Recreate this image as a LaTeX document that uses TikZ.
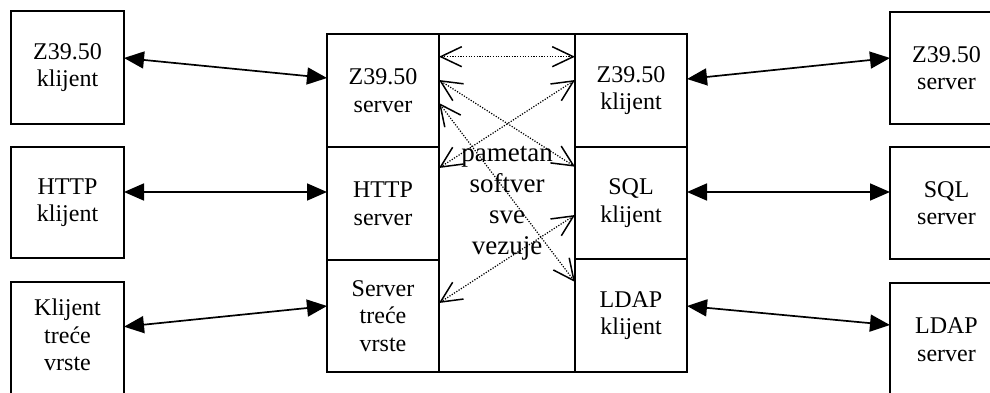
\documentclass[tikz,border=0pt]{standalone}
\usepackage{fontspec}
\setmainfont{Liberation Serif}
\usetikzlibrary{arrows.meta}
\begin{document}
\begin{tikzpicture}[x=1pt,y=-1pt,
  box/.style={draw, line width=1.5pt, inner sep=0pt, outer sep=0pt, align=center,
    font=\fontsize{24}{27.6}\selectfont},
  txt/.style={inner sep=0pt, align=center, font=\fontsize{24}{27.6}\selectfont},
  link/.style={line width=1.7pt,
    {Triangle[length=20pt,width=17pt]}-{Triangle[length=20pt,width=17pt]}},
  dotlink/.style={line width=1.2pt, dash pattern=on 1.2pt off 1.5pt,
    {Straight Barb[length=21pt,width=20pt,line width=1.5pt]}-{Straight Barb[length=21pt,width=20pt,line width=1.5pt]}},
]
\useasboundingbox (0,0) rectangle (990,393);
\begin{scope}
\clip (0,0) rectangle (990,393);
% left clients
\node[box, minimum width=113pt, minimum height=113pt] (l1) at (67.5,67.5) {Z39.50\\klijent};
\node[box, minimum width=113pt, minimum height=111pt] (l2) at (67.5,202.5) {HTTP\\klijent};
\node[box, minimum width=113pt, minimum height=113pt] (l3) at (67.5,338.5) {};
\node[txt] (l3t) at (67.5,335) {Klijent\\treće\\vrste};
% center column A
\node[box, minimum width=112pt, minimum height=113pt] (a1) at (383,90.5) {Z39.50\\server};
\node[box, minimum width=112pt, minimum height=113pt] (a2) at (383,203.5) {HTTP\\server};
\node[box, minimum width=112pt, minimum height=112pt] (a3) at (383,316) {Server\\treće\\vrste};
% middle
\node[box, minimum width=136pt, minimum height=338pt, font=\fontsize{27}{31}\selectfont] (b) at (507,203) {pametan\\softver\\sve\\vezuje};
% center column C
\node[box, minimum width=112pt, minimum height=113pt] (c1) at (631,90.5) {Z39.50\\klijent};
\node[box, minimum width=112pt, minimum height=112pt] (c2) at (631,203) {SQL\\klijent};
\node[box, minimum width=112pt, minimum height=113pt] (c3) at (631,315.5) {LDAP\\klijent};
% right servers
\node[box, minimum width=113pt, minimum height=112pt] (r1) at (946.5,68) {Z39.50\\server};
\node[box, minimum width=113pt, minimum height=112pt] (r2) at (946.5,203) {SQL\\server};
\node[box, minimum width=113pt, minimum height=113pt] (r3) at (946.5,339.5) {LDAP\\server};
% solid links
\draw[link] ([yshift=9.5pt]l1.east) -- ([yshift=12.5pt]a1.west);
\draw[link] ([yshift=10.5pt]l2.east) -- ([yshift=11.5pt]a2.west);
\draw[link] ([yshift=11.8pt]l3.east) -- ([yshift=10pt]a3.west);
\draw[link] ([yshift=11.5pt]c1.east) -- ([yshift=10pt]r1.west);
\draw[link] ([yshift=11pt]c2.east) -- ([yshift=11pt]r2.west);
\draw[link] ([yshift=9.5pt]c3.east) -- ([yshift=14.5pt]r3.west);
% dotted links
\draw[dotlink] ([yshift=33.8pt]a1.east) -- ([yshift=33.8pt]c1.west);
\draw[dotlink] ([yshift=10.5pt]a1.east) -- ([yshift=36.3pt]c2.west);
\draw[dotlink] ([yshift=-12.5pt]a1.east) -- ([yshift=33.5pt]c3.west);
\draw[dotlink] ([yshift=10.5pt]c1.west) -- ([yshift=35.5pt]a2.east);
\draw[dotlink] ([yshift=-12pt]c2.west) -- ([yshift=13pt]a3.east);
\end{scope}
\end{tikzpicture}
\end{document}
